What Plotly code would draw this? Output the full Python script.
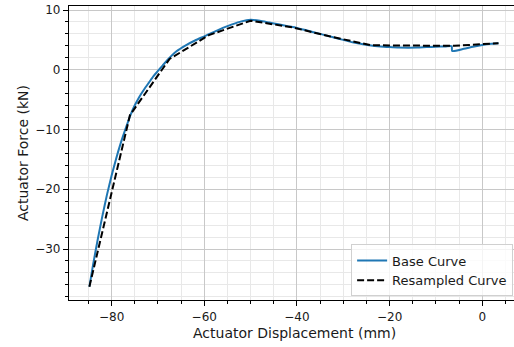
import plotly.graph_objects as go

# Base curve
base_x = [-84.8, -84, -83, -82, -81, -80, -79, -78, -77, -76, -75, -74, -73, -72, -71, -70,
          -69, -68, -66, -64, -62, -60, -58, -56, -54, -52, -50, -48, -46, -44, -42, -40,
          -38, -36, -34, -32, -30, -28, -26, -24, -22, -20, -18, -16, -14, -12, -10, -8,
          -6.6, -6.5, -4, -2, 0, 2, 3.5]
base_y = [-36.3, -32.6, -28.4, -24.5, -20.9, -17.7, -14.8, -12.2, -9.9, -7.7, -5.95, -4.5,
          -3.3, -2.2, -1.1, -0.2, 0.7, 1.6, 3.1, 4.1, 4.9, 5.6, 6.3, 7.0, 7.6, 8.1, 8.35,
          8.2, 7.9, 7.6, 7.3, 7.0, 6.6, 6.2, 5.8, 5.4, 5.0, 4.6, 4.3, 4.05, 3.9, 3.8, 3.72,
          3.7, 3.72, 3.8, 3.85, 3.9, 3.95, 3.15, 3.5, 3.85, 4.15, 4.35, 4.45]

# Resampled curve
res_x = [-84.8, -76.05, -67.5, -59, -50, -41, -33, -24, -6, 3.5]
res_y = [-36.3, -7.6, 1.8, 5.8, 8.2, 7.1, 5.6, 4.1, 4.0, 4.45]

x_title = "Actuator Displacement (mm)"
y_title = "Actuator Force (kN)"

fig = go.Figure()
fig.add_trace(go.Scatter(x=base_x, y=base_y, mode="lines", name="Base Curve",
                         line=dict(color="#1f77b4", width=2, shape="spline", smoothing=0.6)))
fig.add_trace(go.Scatter(x=res_x, y=res_y, mode="lines", name="Resampled Curve",
                         line=dict(color="black", width=2, dash="7px,3px")))

font = dict(family="DejaVu Sans", size=12, color="#1a1a1a")
fig.update_layout(
    width=514, height=347,
    margin=dict(l=69, r=0, t=6, b=47),
    paper_bgcolor="white", plot_bgcolor="white",
    font=font,
    showlegend=True,
    legend=dict(x=0.998, y=0.012, xanchor="right", yanchor="bottom",
                bgcolor="rgba(255,255,255,0.8)", bordercolor="#d0d0d0", borderwidth=1,
                font=dict(family="DejaVu Sans", size=13, color="#1a1a1a"),
                tracegroupgap=0, itemwidth=30),
    xaxis=dict(range=[-89.2, 6.85], dtick=20, tick0=0, showline=True, linecolor="black",
               linewidth=1.2, mirror=True, ticks="outside", ticklen=5, tickcolor="black",
               ticklabelstandoff=0,
               showgrid=True, gridcolor="#c8c8c8", gridwidth=1, zeroline=False,
               minor=dict(dtick=5, tick0=0, showgrid=True, gridcolor="#e8e8e8",
                          ticks="outside", ticklen=3, tickcolor="black")),
    yaxis=dict(range=[-38.53, 10.67], dtick=10, tick0=0, showline=True, linecolor="black",
               linewidth=1.2, ticks="outside", ticklen=5, tickcolor="black",
               showgrid=True, gridcolor="#c8c8c8", gridwidth=1, zeroline=False,
               title=dict(text=y_title, standoff=3,
                          font=dict(family="DejaVu Sans", size=14, color="#1a1a1a")),
               minor=dict(dtick=2, tick0=0, showgrid=True, gridcolor="#e8e8e8",
                          ticks="outside", ticklen=3, tickcolor="black")),
    annotations=[dict(text=x_title, xref="paper", yref="paper",
                      x=(294.5 - 69) / 445, y=(300 - 333) / 294,
                      xanchor="center", yanchor="middle", showarrow=False,
                      font=dict(family="DejaVu Sans", size=14, color="#1a1a1a"))],
)
fig.write_html("out.html")
